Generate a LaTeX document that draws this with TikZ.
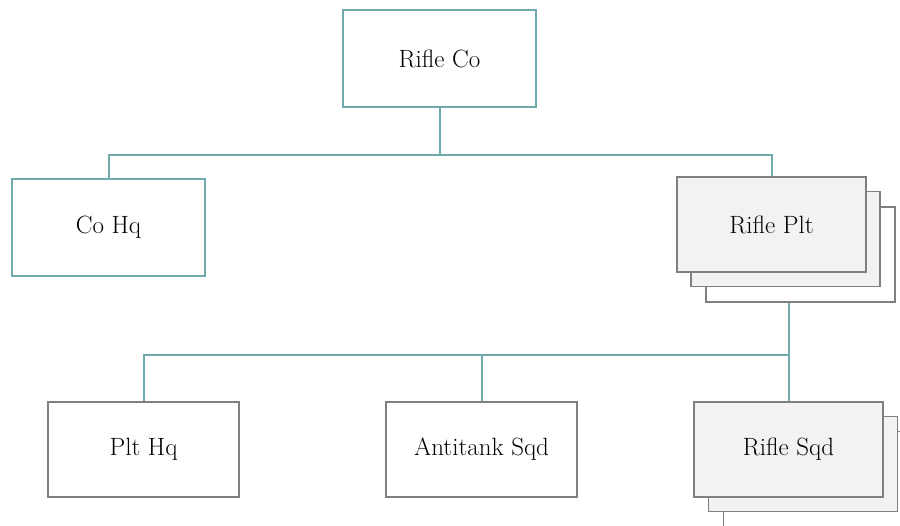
\documentclass[tikz,border=0pt]{standalone}
\usepackage{fontspec}
\definecolor{tealline}{RGB}{112,170,173}
\definecolor{grayline}{RGB}{128,128,128}
\definecolor{boxfill}{RGB}{242,242,242}
\tikzset{
  lbl/.style={font=\fontsize{25}{30}\selectfont, text=black, inner sep=0pt},
  tealbox/.style={lbl, draw=tealline, line width=1.8pt, fill=white, minimum width=193pt, minimum height=97pt},
  graybox/.style={lbl, draw=grayline, line width=1.8pt, fill=white, minimum width=191pt, minimum height=95pt},
  stackbox/.style={lbl, draw=grayline, line width=1.8pt, fill=boxfill, minimum width=189pt, minimum height=95pt},
  conn/.style={draw=tealline, line width=2pt}
}
\begin{document}
\begin{tikzpicture}[x=1pt,y=-1pt]
\useasboundingbox (0,0) rectangle (900,526);
\clip (0,0) rectangle (900,526);
% top
\node[tealbox] (co) at (439.5,58.5) {Rifle Co};
\node[tealbox] (cohq) at (108.5,227.5) {Co Hq};
% rifle plt stack
\node[stackbox, fill=white] (plt3) at (800.5,254.5) {};
\node[stackbox] (plt2) at (785.5,239) {};
\node[stackbox] (plt) at (771.5,224.5) {Rifle Plt};
% bottom row
\node[graybox] (plthq) at (143.5,449.5) {Plt Hq};
\node[graybox] (at) at (481.5,449.5) {Antitank Sqd};
\node[stackbox, fill=white] (sqd3) at (818,479) {};
\node[stackbox] (sqd2) at (803,464) {};
\node[stackbox] (sqd) at (788.5,449.5) {Rifle Sqd};
% connectors
\coordinate (j1) at (439.5,155);
\coordinate (j2) at (788.5,355);
\draw[conn] (co.south) -- (j1);
\draw[conn] (cohq.north) |- (j1) -| (plt.north);
\draw[conn] (sqd.north |- plt3.south) -- (sqd.north);
\draw[conn] (plthq.north) |- (j2);
\draw[conn] (at.north) -- (at.north |- j2);
\end{tikzpicture}
\end{document}
